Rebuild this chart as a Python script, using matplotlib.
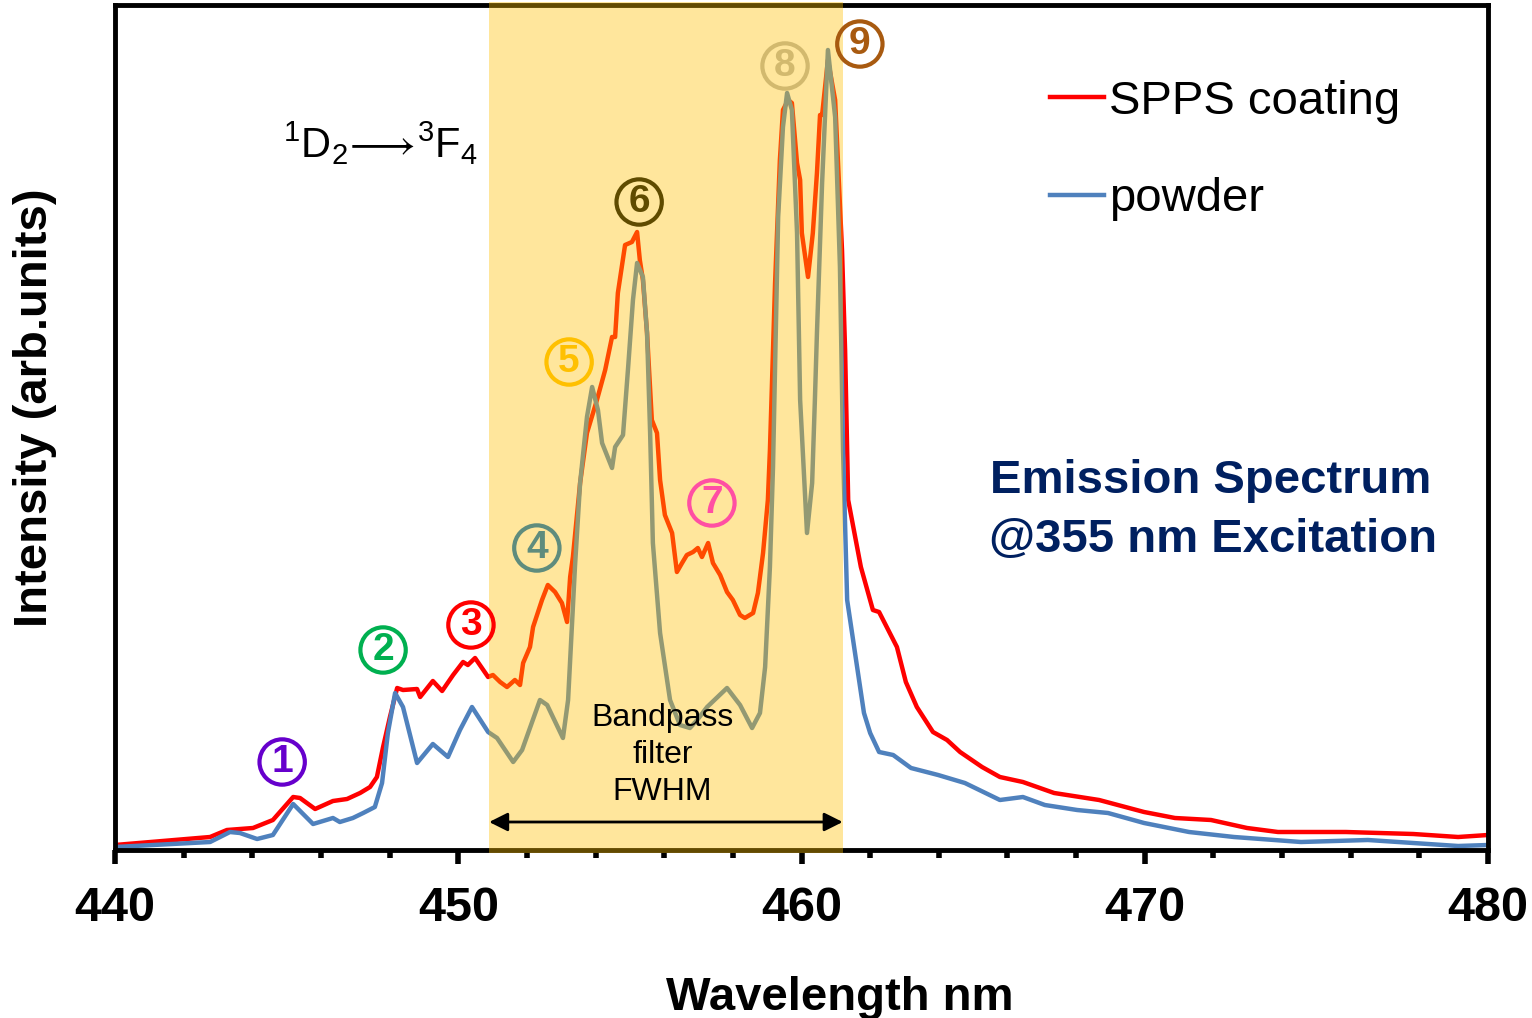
import matplotlib
matplotlib.use("Agg")
import matplotlib.pyplot as plt
from matplotlib.ticker import MultipleLocator

plt.rcParams["font.family"] = ["Liberation Sans", "DejaVu Sans"]
plt.rcParams["mathtext.fontset"] = "custom"
plt.rcParams["mathtext.rm"] = "Liberation Sans"

# SPPS coating spectrum (wavelength nm, arb. intensity)
wl_spps = [440.0, 442.77, 443.26, 444.02, 444.60, 445.19, 445.39, 445.83, 446.35, 446.76,
           447.14, 447.43, 447.63, 447.81, 448.01, 448.22, 448.39, 448.80, 448.89, 449.26,
           449.53, 449.85, 450.14, 450.28, 450.49, 450.87, 451.01, 451.22, 451.42, 451.65,
           451.80, 451.89, 452.09, 452.18, 452.44, 452.61, 452.82, 453.02, 453.17, 453.26,
           453.34, 453.55, 453.75, 454.04, 454.28, 454.48, 454.57, 454.65, 454.86, 455.06,
           455.21, 455.29, 455.38, 455.50, 455.64, 455.79, 455.88, 456.02, 456.23, 456.37,
           456.52, 456.66, 456.84, 456.98, 457.10, 457.28, 457.42, 457.63, 457.83, 458.00,
           458.21, 458.35, 458.59, 458.73, 458.88, 459.02, 459.08, 459.23, 459.37, 459.46,
           459.61, 459.72, 459.87, 459.96, 460.01, 460.19, 460.33, 460.45, 460.54, 460.60,
           460.77, 460.98, 461.18, 461.27, 461.36, 461.73, 462.08, 462.26, 462.78, 463.04,
           463.36, 463.83, 464.24, 464.62, 465.26, 465.78, 466.45, 467.36, 468.67, 469.98,
           470.88, 471.93, 472.98, 473.88, 475.86, 477.82, 479.13, 480.0]
int_spps = [5, 13, 20, 22, 30, 53, 52, 41, 49, 51,
            57, 63, 73, 103, 133, 162, 160, 161, 153, 169,
            159, 175, 188, 185, 192, 173, 175, 168, 163, 170,
            165, 187, 203, 223, 250, 265, 258, 247, 228, 273,
            293, 367, 417, 450, 480, 513, 513, 557, 605, 608,
            618, 590, 570, 517, 430, 417, 370, 335, 317, 278,
            287, 295, 298, 302, 293, 307, 287, 275, 258, 250,
            235, 232, 237, 257, 297, 350, 400, 567, 690, 740,
            750, 747, 687, 670, 617, 573, 617, 677, 735, 735,
            790, 750, 600, 500, 350, 283, 240, 238, 203, 168,
            143, 118, 110, 98, 83, 73, 68, 57, 50, 38,
            32, 30, 22, 18, 18, 16, 13, 15]

# powder spectrum
wl_powder = [440.0, 442.77, 443.35, 443.64, 444.14, 444.60, 445.19, 445.77, 446.35, 446.55,
             446.93, 447.23, 447.57, 447.78, 447.95, 448.16, 448.39, 448.80, 449.26, 449.70,
             450.05, 450.40, 450.87, 451.13, 451.60, 451.86, 452.38, 452.59, 453.05, 453.20,
             453.40, 453.55, 453.75, 453.90, 454.07, 454.19, 454.48, 454.57, 454.80, 454.95,
             455.09, 455.21, 455.38, 455.50, 455.59, 455.67, 455.88, 456.17, 456.46, 456.75,
             456.96, 457.25, 457.83, 458.21, 458.56, 458.79, 458.94, 459.08, 459.17, 459.32,
             459.46, 459.58, 459.72, 459.87, 459.96, 460.01, 460.16, 460.31, 460.39, 460.45,
             460.60, 460.77, 460.98, 461.12, 461.21, 461.33, 461.62, 461.82, 462.00, 462.26,
             462.67, 463.19, 463.98, 464.76, 465.78, 466.45, 467.09, 468.03, 468.93, 469.98,
             471.29, 472.60, 474.55, 476.50, 477.82, 479.13, 480.0]
int_powder = [3, 8, 18, 17, 11, 15, 46, 26, 32, 28,
              32, 37, 43, 67, 117, 157, 143, 87, 106, 93,
              120, 143, 118, 112, 88, 100, 150, 145, 112, 150,
              283, 367, 433, 463, 440, 407, 382, 403, 415, 483,
              550, 587, 573, 517, 417, 307, 217, 150, 125, 122,
              130, 143, 162, 145, 122, 137, 183, 283, 383, 633,
              723, 757, 740, 617, 450, 417, 317, 367, 450, 517,
              667, 800, 733, 583, 400, 250, 183, 137, 117, 98,
              95, 82, 75, 67, 50, 53, 45, 40, 37, 27,
              18, 13, 8, 10, 7, 4, 5]

# bandpass filter FWHM
band = [450.9, 461.2]

# numbered peak labels
peak_ids = ["1", "2", "3", "4", "5", "6", "7", "8", "9"]
peak_x = [444.87, 447.81, 450.37, 452.29, 453.23, 455.27, 457.39, 459.52, 461.70]
peak_y = [88, 200, 225, 302, 488, 648, 347, 784, 806]
peak_colors = ["#6600CC", "#00B050", "#FF0000", "#5F8C7D", "#FFC000",
               "#5F4B00", "#FF4FA3", "#D2B96E", "#A85A10"]

fig = plt.figure(figsize=(15.32, 10.18), dpi=100)
ax = fig.add_axes([115 / 1532, 168 / 1018, 1373 / 1532, 845 / 1018])

ax.plot(wl_spps, int_spps, color="#FF0000", lw=3.2, label="SPPS coating", zorder=2)
ax.plot(wl_powder, int_powder, color="#4F81BD", lw=3.2, label="powder", zorder=2.1)

span = ax.axvspan(band[0], band[1], ymin=-0.004, ymax=1.004, color="#FFC000",
                  alpha=0.39, lw=0, zorder=3)
span.set_clip_on(False)

ax.annotate("", xy=(band[1], 28), xytext=(band[0], 28),
            arrowprops=dict(arrowstyle="<|-|>", color="black", lw=2,
                            mutation_scale=28, shrinkA=0, shrinkB=0), zorder=4)
ax.text((band[0] + band[1]) / 2 - 0.1, 95, "Bandpass\nfilter\nFWHM", ha="center",
        va="center", fontsize=23, linespacing=1.3, zorder=4)

for pid, px, py, pc in zip(peak_ids, peak_x, peak_y, peak_colors):
    ax.text(px, py, pid, ha="center", va="center", fontsize=28, fontweight="bold",
            color=pc, zorder=5,
            bbox=dict(boxstyle="circle,pad=0.12", fc="none", ec=pc, lw=3))

ax.text(0.122, 0.819, r"$^1\mathrm{D}_2\!\longrightarrow\!{}^3\mathrm{F}_4$",
        transform=ax.transAxes, fontsize=30, va="baseline", ha="left")
ax.text(0.798, 0.437, "Emission Spectrum", transform=ax.transAxes, ha="center",
        va="center", fontsize=34, fontweight="bold", color="#002060")
ax.text(0.800, 0.367, "@355 nm Excitation", transform=ax.transAxes, ha="center",
        va="center", fontsize=34, fontweight="bold", color="#002060")

ax.set_xlim(440, 480)
ax.set_ylim(0, 845)
ax.xaxis.set_major_locator(MultipleLocator(10))
ax.xaxis.set_minor_locator(MultipleLocator(2))
ax.tick_params(axis="x", which="major", direction="out", length=10, width=4,
               labelsize=35, pad=16)
ax.tick_params(axis="x", which="minor", direction="out", length=6, width=4)
for lab in ax.get_xticklabels():
    lab.set_fontweight("bold")
ax.set_yticks([])
for s in ax.spines.values():
    s.set_linewidth(3.5)
    s.set_color("black")

ax.set_xlabel("Wavelength nm", fontsize=34, fontweight="bold")
ax.xaxis.set_label_coords(0.528, -0.149)
ax.set_ylabel("Intensity (arb.units)", fontsize=34, fontweight="bold")
ax.yaxis.set_label_coords(-0.042, 0.524)

ax.legend(loc="upper left", bbox_to_anchor=(1050 / 1532, 1 - 80 / 1018),
          bbox_transform=fig.transFigure, frameon=False, fontsize=34,
          handlelength=1.15, handletextpad=0.1, labelspacing=1.13,
          borderpad=0, borderaxespad=0)

plt.savefig("out.png", dpi=100)
plt.close()
